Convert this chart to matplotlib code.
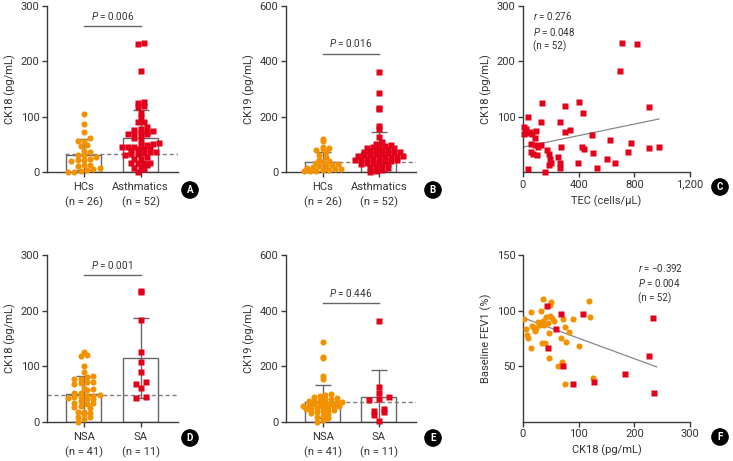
import matplotlib
matplotlib.use("Agg")
import matplotlib.pyplot as plt
import numpy as np

plt.rcParams['font.family'] = ['Roboto', 'DejaVu Sans']
plt.rcParams['mathtext.fontset'] = 'custom'
plt.rcParams['mathtext.rm'] = 'Roboto'
plt.rcParams['mathtext.it'] = 'Roboto:italic'

ORANGE = '#F39200'
RED = '#E3001B'
DARK = '#3a3a3a'
GREY = '#666666'

# ---- A: CK18, HCs vs asthmatics
a_hc = [105, 87, 73, 62, 56, 56, 48, 47, 38, 36, 31, 31, 27, 24, 22, 21, 19, 12, 12, 10, 8, 6, 4, 1, 0, 0]
# ---- C: TEC vs CK18 (asthmatics, n = 52)
c_tec = [710, 816, 696, 902, 401, 139, 300, 432, 36, 132, 269, 10, 24, 96, 336, 300, 36, 67, 84, 499,
         624, 10, 60, 89, 132, 108, 276, 427, 437, 775, 902, 977, 758, 504, 55, 72, 101, 175, 187, 252,
         192, 199, 187, 269, 396, 600, 660, 264, 533, 36, 161, 50]
c_ck18 = [234, 232, 183, 117, 126, 124, 120, 107, 100, 90, 90, 82, 78, 75, 76, 72, 70, 69, 61, 67,
          58, 68, 51, 48, 48, 46, 45, 46, 41, 52, 43, 46, 37, 34, 36, 33, 31, 39, 33, 27,
          23, 16, 13, 16, 17, 24, 16, 8, 8, 5, 0, 72]
a_asth = c_ck18
a_mean = [31, 61]
a_sd = [28, 51]
a_ref = 32

# ---- B: CK19, HCs vs asthmatics
b_hc = [118, 112, 90, 85, 83, 80, 72, 60, 55, 45, 40, 35, 32, 28, 25, 22, 20, 18, 15, 12, 10, 8, 6, 5, 3, 2]
b_asth = [363, 287, 233, 229, 165, 155, 128, 108, 102, 98, 95, 92, 90, 88, 85, 82, 80, 78, 76, 74,
          72, 70, 68, 66, 64, 62, 60, 58, 57, 56, 55, 53, 52, 50, 48, 46, 44, 42, 40, 38,
          36, 34, 32, 30, 28, 25, 22, 18, 14, 8, 2, 0]
b_mean = [37, 74]
b_sd = [37, 70]
b_ref = 37

# ---- D: CK18, NSA vs SA
d_nsa = [125, 120, 118, 100, 90, 82, 80, 76, 76, 72, 71, 70, 68, 61, 58, 57, 52, 51, 48, 47,
         46, 45, 45, 42, 40, 40, 37, 34, 33, 32, 28, 26, 24, 18, 17, 16, 13, 9, 8, 5, 0]
d_sa = [235, 233, 183, 126, 108, 90, 71, 68, 60, 43, 44]
d_mean = [49, 114]
d_sd = [33, 72]
d_ref = 48

# ---- E: CK19, NSA vs SA
e_nsa = [287, 232, 228, 165, 155, 100, 96, 92, 90, 86, 82, 80, 78, 76, 74, 72, 70, 68, 66, 64,
         62, 60, 58, 56, 55, 53, 50, 48, 46, 44, 42, 40, 37, 34, 30, 26, 22, 17, 12, 6, 0]
e_sa = [362, 126, 102, 80, 78, 88, 46, 40, 36, 24, 4]
e_mean = [72, 88]
e_sd = [60, 98]
e_ref = 72

# ---- F: CK18 vs baseline FEV1
f_nsa_x = [36, 51, 48, 118, 14, 32, 1, 71, 90, 120, 27, 36, 42, 48, 52, 45, 30, 38, 5, 16,
           21, 24, 33, 75, 83, 47, 8, 9, 68, 78, 34, 39, 15, 101, 47, 70, 62, 76, 125, 55, 20]
f_nsa_y = [110, 108, 105, 109, 99, 100, 92, 92, 92, 94, 90, 91, 94, 95, 93, 89, 87, 87, 83, 86,
           82, 84, 88, 85, 81, 80, 78, 75, 75, 72, 71, 71, 66, 68, 57, 54, 50, 34, 39, 91, 84]
f_sa_x = [43, 68, 108, 60, 45, 71, 90, 127, 184, 226, 233, 235]
f_sa_y = [104, 97, 97, 83, 66, 50, 34, 36, 43, 59, 93, 26]

c_fit = (45.0, 0.052)     # intercept, slope
f_fit = (93.5, -0.184)

MS_DOT = 4.4
MS_SQ = 4.0


def rows_scatter(vals, ymax, h_px, row_h, dx, px_per_unit):
    # GraphPad-like layout: points binned in rows, spread symmetrically in each row
    vals = np.asarray(vals, float)
    rows = np.floor(vals / ymax * h_px / row_h).astype(int)
    offs = np.zeros(len(vals))
    for r in np.unique(rows):
        idx = np.where(rows == r)[0]
        idx = idx[np.argsort(vals[idx])]
        n = len(idx)
        offs[idx] = (np.arange(n) - (n - 1) / 2.0) * dx
    return offs / px_per_unit


def style(ax):
    for s in ['top', 'right']:
        ax.spines[s].set_visible(False)
    for s in ['left', 'bottom']:
        ax.spines[s].set_color(DARK)
        ax.spines[s].set_linewidth(1.0)
    ax.tick_params(colors=DARK, labelcolor='#333333', labelsize=8, length=3.5, width=1.0, pad=2)


def bar_panel(ax, g1, g2, means, sds, ref, ymax, yticks, labels, ylabel, ptxt, pline, refmin,
              rh, dxs=(6.2, 6.0)):
    style(ax)
    ax.set_xlim(-0.65, 1.66)
    ax.set_ylim(0, ymax)
    ax.bar([0, 1], means, width=0.62, fill=False, edgecolor=GREY, linewidth=1.0, zorder=1)
    ax.errorbar([0, 1], means, yerr=sds, fmt='none', ecolor=GREY, elinewidth=1.0,
                capsize=6, capthick=1.0, zorder=2)
    ax.axhline(ref, xmin=refmin, xmax=1, color='#808080', lw=1.0, ls=(0, (3, 2)), zorder=2)
    h = 166
    x1 = rows_scatter(g1, ymax, h, rh[0], dxs[0], 56)
    x2 = rows_scatter(g2, ymax, h, rh[1], dxs[1], 56)
    ax.plot(0 + x1, g1, ls='none', marker='o', ms=MS_DOT, mfc=ORANGE, mec='none', zorder=3, clip_on=False)
    ax.plot(1 + x2, g2, ls='none', marker='s', ms=MS_SQ, mfc=RED, mec='none', zorder=3, clip_on=False)
    ax.plot([0, 1], [pline, pline], color=GREY, lw=1.0)
    ax.text(0.5, pline + ymax * 0.025, ptxt, ha='center', va='bottom', fontsize=7.2, color='#333333')
    ax.set_xticks([0, 1])
    ax.set_xticklabels(labels, linespacing=1.45)
    ax.tick_params(axis='x', pad=4)
    ax.set_yticks(yticks)
    ax.set_ylabel(ylabel, fontsize=8, color='#333333', labelpad=3)


fig = plt.figure(figsize=(7.33, 4.61), dpi=100)
W, H = 733.0, 461.0


def axes_px(left, top, right, bottom):
    return fig.add_axes([left / W, 1 - bottom / H, (right - left) / W, (bottom - top) / H])


axA = axes_px(47, 6, 178, 172)
axB = axes_px(286, 6, 416, 172)
axC = axes_px(523, 6, 690, 172)
axD = axes_px(47, 255, 178, 421.7)
axE = axes_px(286, 255, 416, 421.7)
axF = axes_px(523, 255, 690, 421.7)

bar_panel(axA, a_hc, a_asth, a_mean, a_sd, a_ref, 300, [0, 100, 200, 300],
          ['HCs\n(n = 26)', 'Asthmatics\n(n = 52)'], 'CK18 (pg/mL)', '$P$ = 0.006', 264, 0.14,
          (5.0, 4.2))
bar_panel(axB, b_hc, b_asth, b_mean, b_sd, b_ref, 600, [0, 200, 400, 600],
          ['HCs\n(n = 26)', 'Asthmatics\n(n = 52)'], 'CK19 (pg/mL)', '$P$ = 0.016', 428, 0.14,
          (4.0, 4.0))
bar_panel(axD, d_nsa, d_sa, d_mean, d_sd, d_ref, 300, [0, 100, 200, 300],
          ['NSA\n(n = 41)', 'SA\n(n = 11)'], 'CK18 (pg/mL)', '$P$ = 0.001', 264, 0.0,
          (4.6, 5.0), (6.2, 10.0))
bar_panel(axE, e_nsa, e_sa, e_mean, e_sd, e_ref, 600, [0, 200, 400, 600],
          ['NSA\n(n = 41)', 'SA\n(n = 11)'], 'CK19 (pg/mL)', '$P$ = 0.446', 426, 0.14,
          (4.0, 5.0), (5.6, 10.0))

# C
style(axC)
axC.set_xlim(0, 1200)
axC.set_ylim(0, 300)
axC.plot(c_tec, c_ck18, ls='none', marker='s', ms=MS_SQ, mfc=RED, mec='none', zorder=3, clip_on=False)
xs = np.array([min(c_tec), max(c_tec)])
axC.plot(xs, c_fit[0] + c_fit[1] * xs, color='#888888', lw=0.9, zorder=2)
axC.set_xticks([0, 400, 800, 1200])
axC.set_xticklabels(['0', '400', '800', '1,200'])
axC.set_yticks([100, 200, 300])
axC.set_xlabel('TEC (cells/\u03bcL)', fontsize=8, color='#333333', labelpad=4)
axC.set_ylabel('CK18 (pg/mL)', fontsize=8, color='#333333', labelpad=3)
axC.text(0.058, 0.975, '$r$ = 0.276\n$P$ = 0.048\n(n = 52)', transform=axC.transAxes,
         ha='left', va='top', fontsize=7, color='#333333', linespacing=1.35)

# F
style(axF)
axF.set_xlim(0, 300)
axF.set_ylim(0, 150)
axF.plot(f_nsa_x, f_nsa_y, ls='none', marker='o', ms=MS_DOT, mfc=ORANGE, mec='none', zorder=3)
axF.plot(f_sa_x, f_sa_y, ls='none', marker='s', ms=MS_SQ, mfc=RED, mec='none', zorder=4)
xs = np.array([3, 240])
axF.plot(xs, f_fit[0] + f_fit[1] * xs, color='#888888', lw=0.9, zorder=2)
axF.set_xticks([0, 100, 200, 300])
axF.set_yticks([50, 100, 150])
axF.set_xlabel('CK18 (pg/mL)', fontsize=8, color='#333333', labelpad=4)
axF.set_ylabel('Baseline FEV1 (%)', fontsize=8, color='#333333', labelpad=3)
axF.text(0.69, 0.96, '$r$ = \u22120.392\n$P$ = 0.004\n(n = 52)', transform=axF.transAxes,
         ha='left', va='top', fontsize=7, color='#333333', linespacing=1.35)

# panel letters
for letter, (px, py) in zip('ABCDEF', [(190, 190), (433, 190), (720, 187),
                                       (190, 438), (433, 438), (720, 437)]):
    fig.text(px / W, 1 - py / H, letter, ha='center', va='center', color='white',
             fontsize=7, fontweight='bold',
             bbox=dict(boxstyle='circle,pad=0.32', fc='black', ec='black'))

fig.savefig('out.png', dpi=100)
